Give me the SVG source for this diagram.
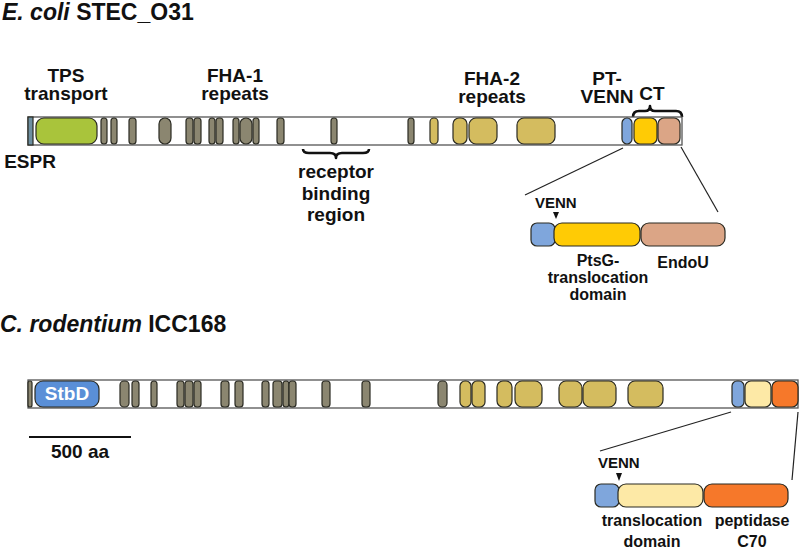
<svg xmlns="http://www.w3.org/2000/svg" width="800" height="551" viewBox="0 0 800 551">
<style>
text{font-family:"Liberation Sans",Arial,sans-serif;font-weight:bold;fill:#111}
.t{font-size:23px}
.l{font-size:19px;text-anchor:middle}
.s{font-size:16px;text-anchor:middle}
.bar{fill:#fff;stroke:#555;stroke-width:1.3}
.d{stroke:#2a2a22;stroke-width:1.2}
.g{fill:#8b8670}
.y{fill:#d4bc5f}
.br{fill:none;stroke:#111;stroke-width:2.6;stroke-linejoin:round}
.ln{stroke:#222;stroke-width:1.2;fill:none}
</style>
<text class="t" x="2" y="20"><tspan font-style="italic">E. coli</tspan> STEC_O31</text>
<text class="t" x="0" y="332"><tspan font-style="italic">C. rodentium</tspan> ICC168</text>

<g id="labels-top">
<text class="l" x="66" y="82">TPS</text><text class="l" x="66" y="100">transport</text>
<text class="l" x="235" y="82">FHA-1</text><text class="l" x="235" y="100">repeats</text>
<text class="l" x="492" y="85">FHA-2</text><text class="l" x="492" y="103">repeats</text>
<text class="l" x="607" y="85">PT-</text><text class="l" x="607" y="103">VENN</text>
<text class="l" x="652" y="100">CT</text>
<text class="l" x="30" y="168">ESPR</text>
<text class="l" x="336" y="178">receptor</text><text class="l" x="336" y="200">binding</text><text class="l" x="336" y="221">region</text>
</g>

<g id="connectors">
<path class="br" d="M633,117 Q633,111 639,111 L645,111 Q650,111 650,106 Q650,111 655,111 L676,111 Q682,111 682,117"/>
<path class="br" d="M303,149 Q303,153 309,153 L330,153 Q336,153 336,158 Q336,153 342,153 L363,153 Q369,153 369,149"/>
<line class="ln" x1="623" y1="148" x2="525" y2="195"/>
<line class="ln" x1="681" y1="147" x2="718" y2="212"/>
<line class="ln" x1="731" y1="412" x2="600" y2="451"/>
<line class="ln" x1="798" y1="412" x2="792" y2="480"/>
<line x1="29" y1="437" x2="131" y2="437" stroke="#111" stroke-width="2"/>
</g>

<g id="ecoli-bar">
<rect class="bar" x="28" y="117" width="654" height="28"/>
<rect class="d" x="28" y="117" width="5" height="28" fill="#6d8fa0"/>
<rect class="d" x="36" y="118" width="61" height="26" rx="8" fill="#a9c43b"/>
<g class="d g">
<rect x="101" y="118" width="6" height="26" rx="3"/>
<rect x="111" y="118" width="6" height="26" rx="3"/>
<rect x="129" y="118" width="7" height="26" rx="3"/>
<rect x="159" y="118" width="12" height="26" rx="6"/>
<rect x="186" y="118" width="7" height="26" rx="3"/>
<rect x="194" y="118" width="7" height="26" rx="3"/>
<rect x="209" y="118" width="6" height="26" rx="3"/>
<rect x="216" y="118" width="7" height="26" rx="3"/>
<rect x="233" y="118" width="6" height="26" rx="3"/>
<rect x="240" y="118" width="12" height="26" rx="6"/>
<rect x="253" y="118" width="6" height="26" rx="3"/>
<rect x="277" y="118" width="7" height="26" rx="3"/>
<rect x="331" y="118" width="6" height="26" rx="3"/>
<rect x="408" y="118" width="6" height="26" rx="3"/>
</g>
<g class="d y">
<rect x="430" y="118" width="8" height="26" rx="4"/>
<rect x="453" y="118" width="14" height="26" rx="6"/>
<rect x="469" y="118" width="28" height="26" rx="7"/>
<rect x="517" y="118" width="38" height="26" rx="7"/>
</g>
<rect class="d" x="622" y="118" width="10" height="26" rx="5" fill="#7fa6dc"/>
<rect class="d" x="634" y="118" width="23" height="26" rx="6" fill="#ffcb05"/>
<rect class="d" x="658" y="118" width="22" height="26" rx="6" fill="#dba586"/>
</g>

<g id="ecoli-ct">
<text x="535" y="208" font-size="15px">VENN</text>
<polygon points="553,212 559,212 556,219" fill="#111"/>
<rect class="d" x="531" y="223" width="24" height="23" rx="6" fill="#7fa6dc"/>
<rect class="d" x="554" y="223" width="86" height="23" rx="8" fill="#ffcb05"/>
<rect class="d" x="641" y="223" width="84" height="23" rx="8" fill="#dba586"/>
<text class="s" x="598" y="266">PtsG-</text>
<text class="s" x="598" y="283">translocation</text>
<text class="s" x="598" y="300">domain</text>
<text class="s" x="683" y="268">EndoU</text>
</g>

<g id="crod-bar">
<rect class="bar" x="28" y="380" width="770" height="28"/>
<rect class="d g" x="28" y="381" width="4" height="26" rx="2"/>
<rect class="d" x="35" y="381" width="64" height="26" rx="8" fill="#5a8fd7"/>
<text x="67" y="400" font-size="19px" text-anchor="middle" style="fill:#fff">StbD</text>
<g class="d g">
<rect x="120" y="381" width="9" height="26" rx="4"/>
<rect x="132" y="381" width="7" height="26" rx="3"/>
<rect x="151" y="381" width="6" height="26" rx="3"/>
<rect x="177" y="381" width="7" height="26" rx="3"/>
<rect x="185" y="381" width="8" height="26" rx="3"/>
<rect x="194" y="381" width="7" height="26" rx="3"/>
<rect x="221" y="381" width="8" height="26" rx="3"/>
<rect x="235" y="381" width="8" height="26" rx="3"/>
<rect x="262" y="381" width="7" height="26" rx="3"/>
<rect x="273" y="381" width="9" height="26" rx="3"/>
<rect x="283" y="381" width="6" height="26" rx="3"/>
<rect x="289" y="381" width="7" height="26" rx="3"/>
<rect x="322" y="381" width="8" height="26" rx="3"/>
<rect x="362" y="381" width="8" height="26" rx="3"/>
<rect x="438" y="381" width="9" height="26" rx="4"/>
</g>
<g class="d y">
<rect x="460" y="381" width="11" height="26" rx="5"/>
<rect x="472" y="381" width="13" height="26" rx="5"/>
<rect x="497" y="381" width="15" height="26" rx="6"/>
<rect x="515" y="381" width="27" height="26" rx="7"/>
<rect x="559" y="381" width="23" height="26" rx="7"/>
<rect x="583" y="381" width="33" height="26" rx="7"/>
<rect x="628" y="381" width="35" height="26" rx="7"/>
</g>
<rect class="d" x="732" y="381" width="12" height="26" rx="5" fill="#7fa6dc"/>
<rect class="d" x="745" y="381" width="26" height="26" rx="6" fill="#fde9a6"/>
<rect class="d" x="772" y="381" width="26" height="26" rx="6" fill="#f6782a"/>
</g>

<g id="crod-ct">
<text x="598" y="468" font-size="15px">VENN</text>
<polygon points="616,473 622,473 619,481" fill="#111"/>
<rect class="d" x="595" y="484" width="24" height="23" rx="6" fill="#7fa6dc"/>
<rect class="d" x="618" y="484" width="85" height="23" rx="8" fill="#fde9a6"/>
<rect class="d" x="704" y="484" width="84" height="23" rx="8" fill="#f6782a"/>
<text class="s" x="652" y="526">translocation</text>
<text class="s" x="652" y="547">domain</text>
<text class="s" x="752" y="526">peptidase</text>
<text class="s" x="752" y="547">C70</text>
</g>

<g id="scale">
<text class="l" x="80" y="458">500 aa</text>
</g>
</svg>
